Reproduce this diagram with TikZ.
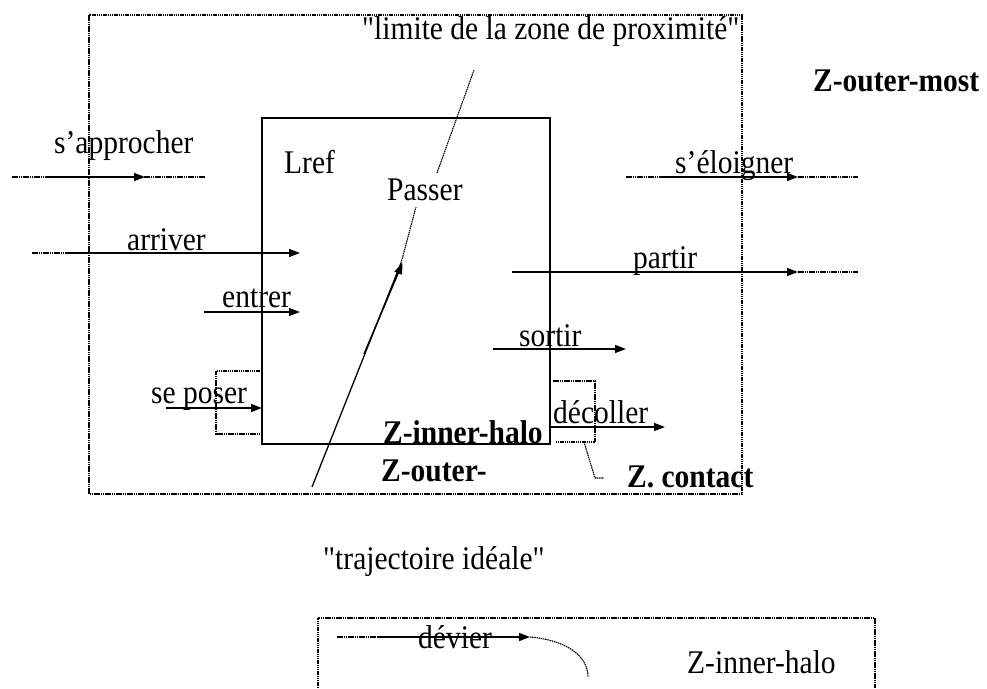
\documentclass[tikz,border=0pt]{standalone}
\usepackage{fontspec}
\usepackage{graphicx}
\newfontfamily\tnr{Liberation Serif}
\setmainfont{Liberation Serif}
\newcommand\vs[1]{\scalebox{1}[1.12]{#1}}
\usetikzlibrary{arrows.meta}
\begin{document}
\begin{tikzpicture}[x=1pt,y=-1pt,
  lbl/.style={anchor=base west,inner sep=0pt,font=\tnr\fontsize{29.5}{35}\selectfont},
  blbl/.style={lbl,font=\tnr\fontsize{29.5}{35}\selectfont\bfseries},
  dotl/.style={line width=1.1pt,dash pattern=on 1.5pt off 0.7pt},
  solid box/.style={line width=1.6pt},
  arr/.style={line width=1.4pt,-{Triangle[length=11pt,width=8pt]}},
  plain/.style={line width=1.3pt}]
\useasboundingbox (0,0) rectangle (987,688);
% outer proximity zone
\draw[dotl] (89,15) rectangle (742,494);
% Lref box
\draw[solid box] (262,118) rectangle (550,444);
% texts
\node[lbl] (limite) at (362,39) {\vs{"limite de la zone de proximité"}};
\node[blbl] (zom) at (813,91) {\vs{Z-outer-most}};
\node[lbl] (appr) at (54,153) {\vs{s’approcher}};
\node[lbl] (lref) at (284,173) {\vs{Lref}};
\node[lbl] (passer) at (387,200) {\vs{Passer}};
\node[lbl] (arriver) at (127,250) {\vs{arriver}};
\node[lbl] (entrer) at (222,307) {\vs{entrer}};
\node[lbl] (eloign) at (675,173) {\vs{s’éloigner}};
\node[lbl] (partir) at (633,268) {\vs{partir}};
\node[lbl] (sortir) at (519,346) {\vs{sortir}};
\node[lbl] (poser) at (151,403) {\vs{se poser}};
\node[blbl] (zih) at (383,443) {\vs{Z-inner-halo}};
\node[blbl] (zo) at (381,481) {\vs{Z-outer-}};
\node[lbl] (decoller) at (553,423) {\vs{décoller}};
\node[blbl] (zc) at (627,487) {\vs{Z. contact}};
\node[lbl] (traj) at (323,569) {\vs{"trajectoire idéale"}};
\node[lbl] (devier) at (418,648) {\vs{dévier}};
\node[lbl] (zih2) at (687,673) {\vs{Z-inner-halo}};
% coordinates
\coordinate (a0) at (12,177); \coordinate (a1) at (50,177); \coordinate (a2) at (145,177); \coordinate (a3) at (205,177);
\coordinate (r0) at (32,253); \coordinate (r1) at (70,253); \coordinate (r2) at (300,253);
\coordinate (e1) at (204,312); \coordinate (e2) at (300,312);
\coordinate (l0) at (626,177); \coordinate (l1) at (665,177); \coordinate (l2) at (798,177); \coordinate (l3) at (858,177);
\coordinate (p1) at (512,272); \coordinate (p2) at (798,272); \coordinate (p3) at (858,272);
\coordinate (s1) at (493,349); \coordinate (s2) at (626,349);
\coordinate (q1) at (166,408); \coordinate (q2) at (262,408);
\coordinate (d1) at (550,427); \coordinate (d2) at (665,427);
\coordinate (t0) at (312,487); \coordinate (t1) at (401,263); \coordinate (t2) at (416,207);
\coordinate (t3) at (437,173); \coordinate (t4) at (474,70);
\coordinate (tA) at (364,354);
% s'approcher
\draw[dotl] (a0) -- (a3);
\draw[arr] (a1) -- (a2);
% arriver
\draw[dotl] (r0) -- (r1);
\draw[arr] (r1) -- (r2);
% entrer
\draw[arr] (e1) -- (e2);
% s'éloigner
\draw[dotl] (l0) -- (l1);
\draw[arr] (l1) -- (l2);
\draw[dotl] (l2) -- (l3);
% partir
\draw[arr] (p1) -- (p2);
\draw[dotl] (p2) -- (p3);
% sortir
\draw[arr] (s1) -- (s2);
% se poser
\draw[arr] (q1) -- (q2);
\draw[dotl] (262,371) -- (216,371) -- (216,434) -- (262,434);
% décoller
\draw[arr] (d1) -- (d2);
% contact zone
\coordinate (c1) at (584,442); \coordinate (c2) at (595,478); \coordinate (c3) at (604,478);
\draw[dotl] (553,381) -- (595,381) -- (595,442) -- (556,442);
\draw[dotl] (c1) -- (c2) -- (c3);
% passer / ideal trajectory
\draw[plain] (t0) -- (t1);
\draw[arr] (tA) -- ([xshift=1.5pt]t1);
\draw[dotl] (t1) -- (t2);
\draw[dotl] (t3) -- (t4);
% lower box
\draw[dotl] (318,688) -- (318,618) -- (875,618) -- (875,688);
\coordinate (v0) at (337,637); \coordinate (v1) at (378,637); \coordinate (v2) at (530,637); \coordinate (v3) at (588,677);
\draw[dotl] (v0) -- (v1);
\draw[arr] (v1) -- (v2);
\draw[dotl] (v2) .. controls (565,640) and (588,655) .. (v3);
\end{tikzpicture}
\end{document}
